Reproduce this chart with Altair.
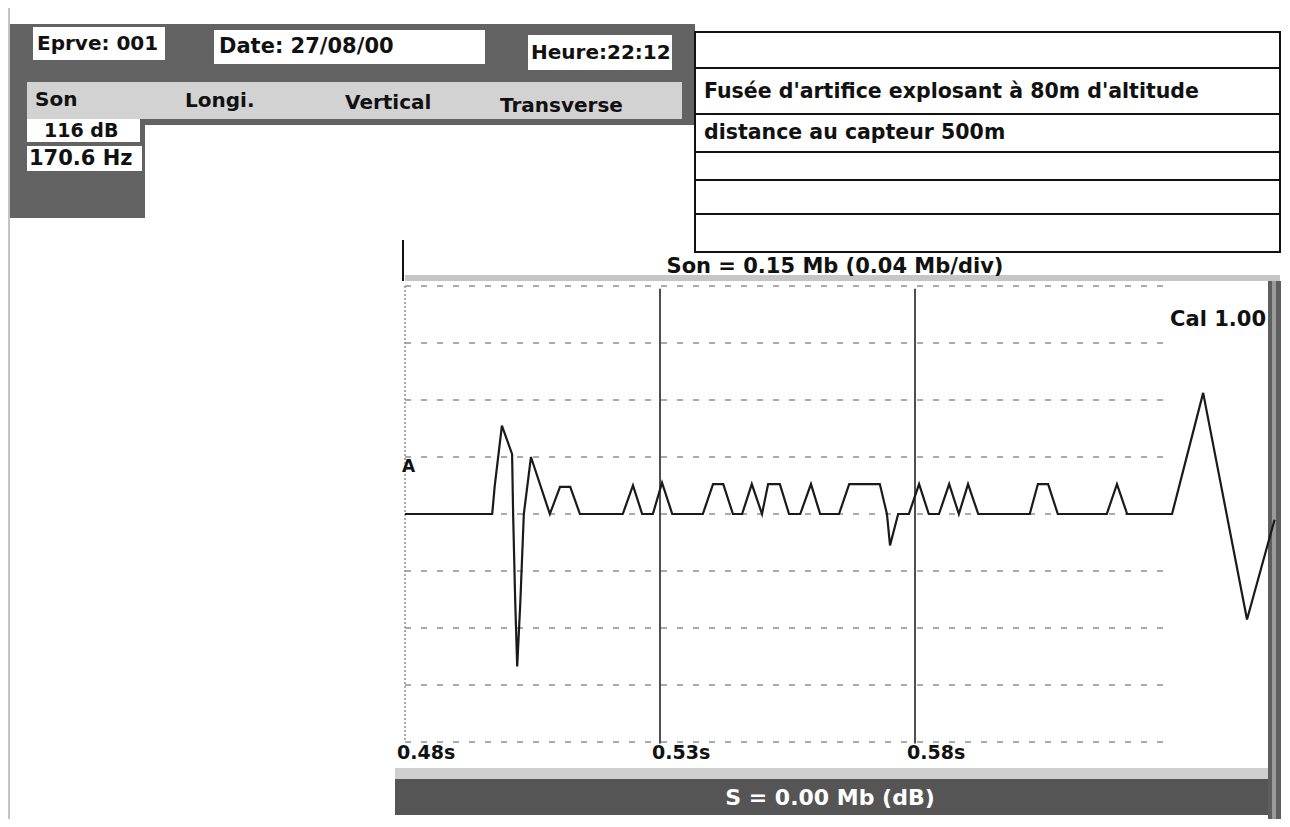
import altair as alt
import pandas as pd

# ---------------- data ----------------
TIME_S = [0.4800, 0.4971, 0.4976, 0.4990, 0.5000, 0.5010, 0.5012, 0.5016, 0.5020, 0.5026,
          0.5033, 0.5047, 0.5084, 0.5104, 0.5124, 0.5143, 0.5227, 0.5247, 0.5265, 0.5286,
          0.5304, 0.5324, 0.5384, 0.5404, 0.5424, 0.5443, 0.5461, 0.5480, 0.5500, 0.5512,
          0.5535, 0.5553, 0.5575, 0.5596, 0.5614, 0.5651, 0.5671, 0.5731, 0.5745, 0.5751,
          0.5767, 0.5788, 0.5808, 0.5827, 0.5847, 0.5867, 0.5886, 0.5904, 0.5924, 0.6025,
          0.6041, 0.6061, 0.6080, 0.6176, 0.6196, 0.6216, 0.6304, 0.6365, 0.6451, 0.6505]
PRESSURE_MB = [0.000, 0.000, 0.020, 0.062, 0.052, 0.042, 0.000, -0.060, -0.107, -0.063,
               0.000, 0.040, 0.000, 0.019, 0.019, 0.000, 0.000, 0.020, 0.000, 0.000,
               0.022, 0.000, 0.000, 0.021, 0.021, 0.000, 0.000, 0.021, 0.000, 0.021,
               0.021, 0.000, 0.000, 0.021, 0.000, 0.000, 0.021, 0.021, 0.000, -0.022,
               0.000, 0.000, 0.021, 0.000, 0.000, 0.021, 0.000, 0.021, 0.000, 0.000,
               0.021, 0.021, 0.000, 0.000, 0.021, 0.000, 0.000, 0.085, -0.074, -0.004]

TIME_TICKS = [0.48, 0.53, 0.58]
TIME_LABELS = ["0.48s", "0.53s", "0.58s"]
GRID_LEVELS = [-0.16, -0.12, -0.08, -0.04, 0.0, 0.04, 0.08, 0.12, 0.16]
GRID_END_S = 0.629
T_MIN, T_MAX = 0.48, 0.65
P_MIN, P_MAX = -0.16, 0.16

HEADER_TEXTS = ["Eprve: 001", "Date: 27/08/00", "Heure:22:12"]
CHANNEL_TEXTS = ["Son", "Longi.", "Vertical", "Transverse"]
SON_VALUES = ["116 dB", "170.6 Hz"]
NOTES = ["Fusée d'artifice explosant à 80m d'altitude", "distance au capteur 500m"]
SCALE_TITLE = "Son = 0.15 Mb (0.04 Mb/div)"
FOOTER = "S = 0.00 Mb (dB)"
CAL = "Cal 1.00"
TRACE_NAME = "A"

# ---------------- layout (page pixels) ----------------
M = 8  # page margin
FONT = "DejaVu Sans"


def px(v):
    return v - M


XS = alt.Scale(domain=[T_MIN, T_MAX], range=[px(405), px(405) + (T_MAX - T_MIN) * 5100])
YS = alt.Scale(domain=[P_MIN, P_MAX], range=[px(742), px(286)])

rects = [
    # x0, y0, x1, y1, fill
    (10, 24, 695, 125, "#636363"),
    (10, 125, 145, 218, "#636363"),
    (27, 82, 682, 119, "#d2d2d2"),
    (33, 27, 165, 60, "#ffffff"),
    (214, 30, 485, 64, "#ffffff"),
    (528, 35, 672, 70, "#ffffff"),
    (27, 119, 140, 142, "#ffffff"),
    (27, 146, 142, 171, "#ffffff"),
    (405, 275, 1280, 281, "#c6c6c6"),
    (395, 768, 1268, 779, "#cfcfcf"),
    (395, 779, 1268, 815, "#555555"),
    (1268, 281, 1281, 827, "#5e5e5e"),
    (1272, 281, 1276, 827, "#9a9a9a"),
]
rect_df = pd.DataFrame([
    {"x0": px(a), "y0": px(b), "x1": px(c), "y1": px(d), "fill": f} for a, b, c, d, f in rects
])

box_df = pd.DataFrame([{"x0": px(695), "y0": px(32), "x1": px(1280), "y1": px(252)}])

box_lines = [68, 114, 152, 180, 214]
hline_df = pd.DataFrame([{"x0": px(695), "x1": px(1280), "y0": px(y), "y1": px(y)} for y in box_lines]
                        + [{"x0": px(403), "x1": px(403), "y0": px(240), "y1": px(281)}])
scan_edge_df = pd.DataFrame([{"x0": px(9), "x1": px(9), "y0": 0, "y1": 811}])

text_pos_left = [
    (HEADER_TEXTS[0], 37, 44, 20), (HEADER_TEXTS[1], 219, 47, 21), (HEADER_TEXTS[2], 531, 53, 20),
    (CHANNEL_TEXTS[0], 35, 100, 20), (CHANNEL_TEXTS[1], 185, 101, 20),
    (CHANNEL_TEXTS[2], 345, 103, 20), (CHANNEL_TEXTS[3], 500, 106, 20),
    (SON_VALUES[0], 44, 131, 19), (SON_VALUES[1], 29, 159, 21),
    (NOTES[0], 704, 92, 20.5), (NOTES[1], 704, 133, 20.5),
]
tl_df = pd.DataFrame([{"t": t, "x": px(x), "y": px(y), "fs": s} for t, x, y, s in text_pos_left])
tc_df = pd.DataFrame([
    {"t": SCALE_TITLE, "x": px(835), "y": px(267), "fs": 21, "c": "#111111"},
    {"t": FOOTER, "x": px(830), "y": px(798), "fs": 22, "c": "#ffffff"},
])

wave_df = pd.DataFrame({"t": TIME_S, "p": PRESSURE_MB})
grid_df = pd.DataFrame({"p": GRID_LEVELS, "t0": [T_MIN] * len(GRID_LEVELS), "t1": [GRID_END_S] * len(GRID_LEVELS)})
vline_df = pd.DataFrame({"t": TIME_TICKS[1:], "p0": [0.158] * 2, "p1": [-0.161] * 2})
left_df = pd.DataFrame({"t": [T_MIN], "p0": [0.16], "p1": [-0.16]})
tick_df = pd.DataFrame({"t": TIME_TICKS, "label": TIME_LABELS, "p": [-0.168] * 3})

N = None

bg = alt.Chart(rect_df).mark_rect().encode(
    x=alt.X("x0:Q", scale=N, axis=N), x2="x1:Q",
    y=alt.Y("y0:Q", scale=N, axis=N), y2="y1:Q",
    color=alt.Color("fill:N", scale=N, legend=N),
)
box = alt.Chart(box_df).mark_rect(fill="white", stroke="#111111", strokeWidth=2).encode(
    x=alt.X("x0:Q", scale=N, axis=N), x2="x1:Q",
    y=alt.Y("y0:Q", scale=N, axis=N), y2="y1:Q",
)
hlines = alt.Chart(hline_df).mark_rule(color="#111111", strokeWidth=2).encode(
    x=alt.X("x0:Q", scale=N, axis=N), x2="x1:Q",
    y=alt.Y("y0:Q", scale=N, axis=N), y2="y1:Q",
)
edge = alt.Chart(scan_edge_df).mark_rule(color="#c4c4c4", strokeWidth=2).encode(
    x=alt.X("x0:Q", scale=N, axis=N), x2="x1:Q",
    y=alt.Y("y0:Q", scale=N, axis=N), y2="y1:Q",
)
tleft = alt.Chart(tl_df).mark_text(align="left", baseline="middle", font=FONT, fontWeight="bold",
                                   color="#111111").encode(
    x=alt.X("x:Q", scale=N, axis=N), y=alt.Y("y:Q", scale=N, axis=N),
    text="t:N", size=alt.Size("fs:Q", scale=N, legend=N),
)
tcenter = alt.Chart(tc_df).mark_text(align="center", baseline="middle", font=FONT, fontWeight="bold").encode(
    x=alt.X("x:Q", scale=N, axis=N), y=alt.Y("y:Q", scale=N, axis=N),
    text="t:N", size=alt.Size("fs:Q", scale=N, legend=N),
    color=alt.Color("c:N", scale=N, legend=N),
)

grid = alt.Chart(grid_df).mark_rule(color="#8f8f8f", strokeWidth=1.3, strokeDash=[6, 10]).encode(
    x=alt.X("t0:Q", scale=XS, axis=N), x2="t1:Q",
    y=alt.Y("p:Q", scale=YS, axis=N),
)
leftb = alt.Chart(left_df).mark_rule(color="#8f8f8f", strokeWidth=1.5, strokeDash=[2, 2]).encode(
    x=alt.X("t:Q", scale=XS, axis=N),
    y=alt.Y("p0:Q", scale=YS, axis=N), y2="p1:Q",
)
vlines = alt.Chart(vline_df).mark_rule(color="#222222", strokeWidth=1.6).encode(
    x=alt.X("t:Q", scale=XS, axis=N),
    y=alt.Y("p0:Q", scale=YS, axis=N), y2="p1:Q",
)
wave = alt.Chart(wave_df).mark_line(color="#1a1a1a", strokeWidth=2.2, interpolate="linear").encode(
    x=alt.X("t:Q", scale=XS, axis=N),
    y=alt.Y("p:Q", scale=YS, axis=N),
)
ticks = alt.Chart(tick_df).mark_text(align="left", baseline="middle", dx=-8, font=FONT,
                                     fontWeight="bold", fontSize=19, color="#111111").encode(
    x=alt.X("t:Q", scale=XS, axis=N), y=alt.Y("p:Q", scale=YS, axis=N), text="label:N",
)
trace_lbl = alt.Chart(pd.DataFrame({"t": [T_MIN], "p": [0.033], "s": [TRACE_NAME]})).mark_text(
    align="left", baseline="middle", dx=-3, font=FONT, fontWeight="bold", fontSize=17, color="#111111"
).encode(x=alt.X("t:Q", scale=XS, axis=N), y=alt.Y("p:Q", scale=YS, axis=N), text="s:N")
cal_lbl = alt.Chart(pd.DataFrame({"t": [T_MAX], "p": [0.136], "s": [CAL]})).mark_text(
    align="right", baseline="middle", dx=-6, font=FONT, fontWeight="bold", fontSize=21, color="#111111"
).encode(x=alt.X("t:Q", scale=XS, axis=N), y=alt.Y("p:Q", scale=YS, axis=N), text="s:N")

chart = alt.layer(
    edge, bg, box, hlines, tleft, tcenter, grid, leftb, vlines, wave, ticks, trace_lbl, cal_lbl
).properties(
    width=1274, height=811, padding=0, background="white",
    autosize=alt.AutoSizeParams(type="none"),
).configure_view(stroke=None)

chart.save("out.html", embed_options={"renderer": "svg", "actions": False})
